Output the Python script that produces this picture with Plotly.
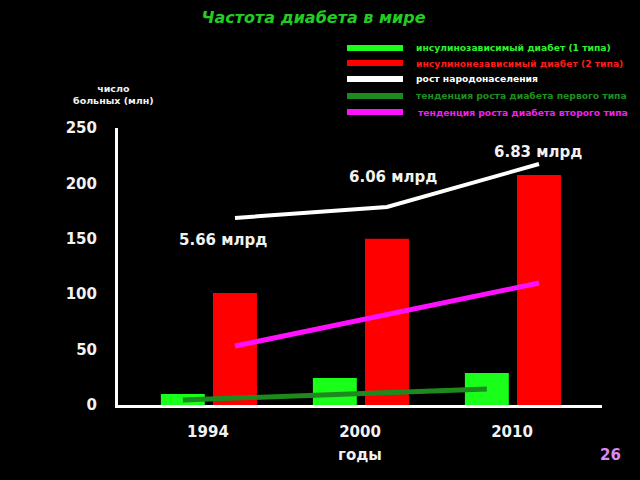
import plotly.graph_objects as go

# ---- data ----
years = ["1994", "2000", "2010"]
type1 = [9.9, 24.4, 28.9]          # инсулинозависимый (1 типа), млн
type2 = [101, 150, 207.6]          # инсулинонезависимый (2 типа), млн
population = [168.8, 178.7, 217.5] # рост народонаселения (линия, в шкале графика)
population_labels = ["5.66 млрд", "6.06 млрд", "6.83 млрд"]
trend1_years = ["1994", "2010"]
trend1 = [4.5, 14.4]
trend2_years = ["1994", "2010"]
trend2 = [53.2, 110.1]
y_ticks = [0, 50, 100, 150, 200, 250]

legend_names = [
    "инсулинозависимый диабет (1 типа)",
    "инсулинонезависимый диабет (2 типа)",
    "рост народонаселения",
    "тенденция роста диабета первого типа",
    "тенденция роста диабета второго типа",
]

# ---- styles ----
C_T1 = "#1aff1a"
C_T2 = "#ff0000"
C_POP = "#ffffff"
C_TR1 = "#1e8a1e"
C_TR2 = "#ff11ff"
legend_line_colors = [C_T1, C_T2, C_POP, C_TR1, C_TR2]
legend_text_colors = ["#2ef02e", "#ff1a1a", "#ffffff", "#1f8f1f", "#f020f0"]
FONT = "DejaVu Sans"
TXT = "#f2f2f2"

idx = {y: i for i, y in enumerate(years)}
BW = 0.289
OFF_G = -0.31
OFF_R = 0.033
CEN_G = OFF_G + BW / 2
CEN_R = OFF_R + BW / 2

fig = go.Figure()
fig.add_bar(x=[idx[y] for y in years], y=type1, name=legend_names[0],
            marker=dict(color=C_T1, line=dict(width=0)), width=BW, offset=OFF_G,
            showlegend=False)
fig.add_bar(x=[idx[y] for y in years], y=type2, name=legend_names[1],
            marker=dict(color=C_T2, line=dict(width=0)), width=BW, offset=OFF_R,
            showlegend=False)
fig.add_scatter(x=[idx[y] + CEN_R for y in years], y=population, mode="lines",
                line=dict(color=C_POP, width=4), name=legend_names[2], showlegend=False)
fig.add_scatter(x=[idx[y] + CEN_G for y in trend1_years], y=trend1, mode="lines",
                line=dict(color=C_TR1, width=5), name=legend_names[3], showlegend=False)
fig.add_scatter(x=[idx[y] + CEN_R for y in trend2_years], y=trend2, mode="lines",
                line=dict(color=C_TR2, width=5), name=legend_names[4], showlegend=False)

# population labels
label_pos = [(0.1, 149), (1.22, 206), (2.17, 228)]
for (lx, ly), t in zip(label_pos, population_labels):
    fig.add_annotation(x=lx, y=ly, xref="x", yref="y", text=t, showarrow=False,
                       font=dict(family=FONT, size=15, color=TXT, weight="bold"))

# custom legend
L, R, T, B = 118, 602, 128, 405
def px(x): return (x - L) / (R - L)
def py(y): return (B - y) / (B - T)
leg_y = [48, 63, 79, 96, 112]
leg_x = [414, 414, 414, 414, 416]
for yy, xx, lc, tc, name in zip(leg_y, leg_x, legend_line_colors, legend_text_colors, legend_names):
    fig.add_shape(type="rect", xref="paper", yref="paper",
                  x0=px(347), x1=px(403), y0=py(yy + 3), y1=py(yy - 3),
                  fillcolor=lc, line=dict(width=0))
    fig.add_annotation(xref="paper", yref="paper", x=px(xx), y=py(yy),
                       xanchor="left", yanchor="middle", text=name, showarrow=False,
                       font=dict(family=FONT, size=9.2, color=tc, weight="bold"))

# y axis label
fig.add_annotation(xref="paper", yref="paper", x=px(113), y=py(94),
                   text="число<br>больных (млн)", showarrow=False,
                   xanchor="center", yanchor="middle", align="center",
                   font=dict(family=FONT, size=9.5, color=TXT, weight="bold"))
# slide number
fig.add_annotation(xref="paper", yref="paper", x=px(623), y=py(466),
                   text="26", showarrow=False,
                   font=dict(family=FONT, size=15, color="#dd88ee", weight="bold"))

fig.update_layout(
    width=640, height=480,
    paper_bgcolor="#000000", plot_bgcolor="#000000",
    margin=dict(l=L, r=640 - R, t=T, b=480 - B),
    barmode="overlay",
    title=dict(text="<i>Частота диабета в мире</i>", x=0.49, xanchor="center",
               y=1 - 17 / 480, yanchor="middle",
               font=dict(family=FONT, size=16, color="#22cc22", weight="bold")),
    xaxis=dict(range=[-0.592, 2.592], tickvals=list(range(len(years))), ticktext=years,
               showgrid=False, zeroline=False, showline=True, linecolor="#ffffff",
               linewidth=3, ticks="outside", ticklen=11, tickcolor="rgba(0,0,0,0)",
               tickfont=dict(family=FONT, size=15, color=TXT, weight="bold"),
               title=dict(text="годы", standoff=10,
                          font=dict(family=FONT, size=15, color=TXT, weight="bold"))),
    yaxis=dict(range=[0, 250], tickvals=y_ticks, showgrid=False, zeroline=False,
               showline=True, linecolor="#ffffff", linewidth=3,
               ticks="outside", ticklen=15, tickcolor="rgba(0,0,0,0)",
               tickfont=dict(family=FONT, size=15, color=TXT, weight="bold")),
    font=dict(family=FONT, color="#ffffff"),
)

fig.write_html("out.html", config={"displayModeBar": False},
               post_script="document.body.style.margin='0';document.body.style.background='#000';document.body.style.overflow='hidden';")
